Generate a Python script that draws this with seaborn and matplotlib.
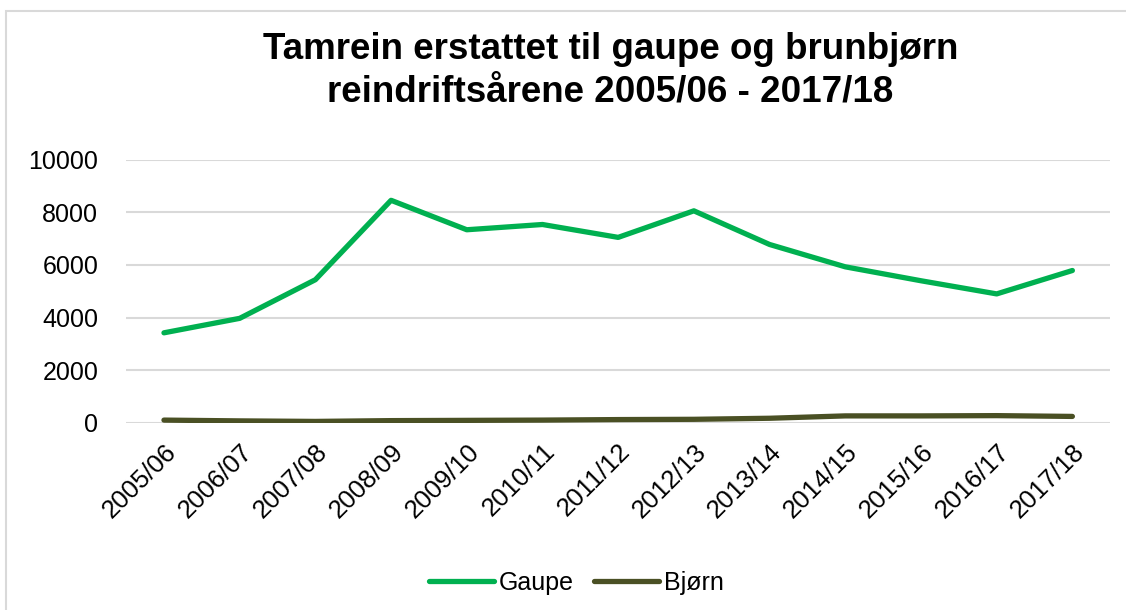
import pandas as pd
import matplotlib.pyplot as plt
import seaborn as sns
from matplotlib.patches import Rectangle

# Data
years = ['2005/06', '2006/07', '2007/08', '2008/09', '2009/10', '2010/11', '2011/12',
         '2012/13', '2013/14', '2014/15', '2015/16', '2016/17', '2017/18']
gaupe = [3420, 3970, 5440, 8460, 7340, 7540, 7050, 8060, 6780, 5930, 5400, 4900, 5790]
bjorn = [100, 70, 50, 80, 90, 100, 120, 130, 170, 260, 260, 270, 240]
series_names = ['Gaupe', 'Bjørn']
colors = ['#00B050', '#4A5024']

df = pd.DataFrame({'År': years * 2,
                   'Antall': gaupe + bjorn,
                   'Art': [series_names[0]] * len(years) + [series_names[1]] * len(years)})

sns.set_style('white')
plt.rcParams['font.family'] = ['Liberation Sans', 'DejaVu Sans']
plt.rcParams['text.color'] = 'black'
plt.rcParams['xtick.color'] = 'black'
plt.rcParams['ytick.color'] = 'black'

fig = plt.figure(figsize=(11.26, 6.10), dpi=100)
ax = fig.add_axes([0.112, 0.307, 0.874, 0.431])

sns.lineplot(data=df, x='År', y='Antall', hue='Art', palette=colors, linewidth=3.8,
             sort=False, ax=ax, solid_capstyle='round')

ax.set_ylim(0, 10000)
ax.set_xlim(-0.5, len(years) - 0.5)
ax.set_yticks(range(0, 10001, 2000))
ax.yaxis.grid(True, color='#D9D9D9', linewidth=1.5)
ax.set_axisbelow(True)
for s in ax.spines.values():
    s.set_visible(False)
ax.set_xlabel('')
ax.set_ylabel('')
ax.tick_params(axis='y', labelsize=18, length=0, pad=20)
ax.tick_params(axis='x', labelsize=18.5, length=0, pad=12)
plt.setp(ax.get_xticklabels(), rotation=45, ha='right', rotation_mode='anchor')

fig.text(0.542, 0.884, 'Tamrein erstattet til gaupe og brunbjørn\nreindriftsårene 2005/06 - 2017/18',
         ha='center', va='center', fontsize=26.5, fontweight='bold', linespacing=1.3)

handles, labels = ax.get_legend_handles_labels()
ax.legend(handles, labels, loc='center', bbox_to_anchor=(0.512, 0.044), bbox_transform=fig.transFigure,
          ncol=2, frameon=False, fontsize=18, handlelength=2.6, columnspacing=0.8, handletextpad=0.2)

# chart area border
fig.patches.append(Rectangle((0.005, -0.1), 1.2, 1.082, transform=fig.transFigure,
                             fill=False, edgecolor='#D9D9D9', linewidth=1.5))

plt.savefig('out.png', dpi=100)
